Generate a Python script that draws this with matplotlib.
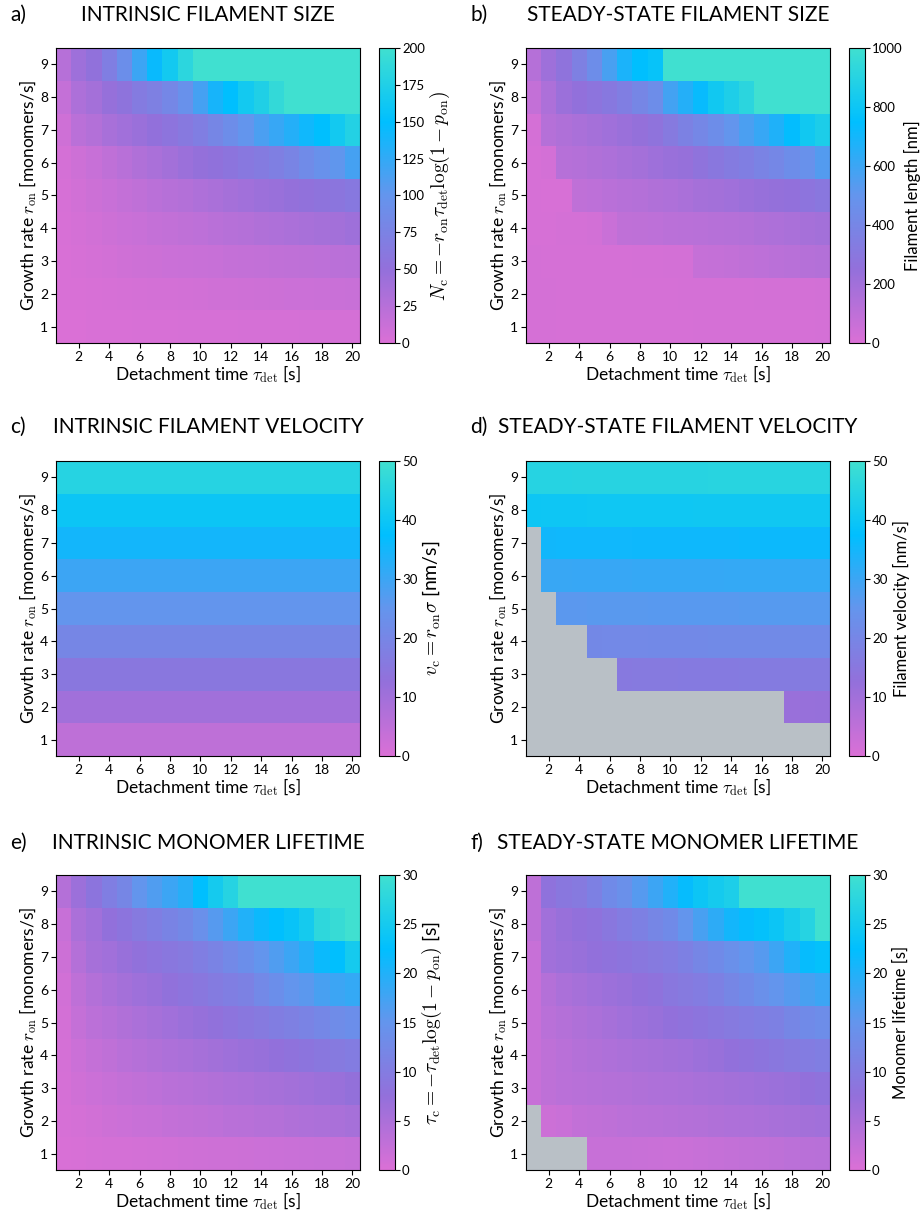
import numpy as np
import matplotlib
matplotlib.use("Agg")
import matplotlib.pyplot as plt
from matplotlib.colors import LinearSegmentedColormap

plt.rcParams['font.family'] = ['Lato', 'DejaVu Sans']
plt.rcParams['mathtext.fontset'] = 'cm'

nan = np.nan
tau_det = np.arange(1, 21)
r_on = np.arange(1, 10)

# rows go r_on = 1 (bottom) ... 9 (top), columns tau_det = 1 ... 20
size_intrinsic = [
    [0.3, 0.6, 0.9, 1.2, 1.5, 1.8, 2.0, 2.2, 2.4, 2.6, 2.8, 3.0, 3.2, 3.4, 3.6, 3.8, 4.0, 4.2, 4.4, 4.6],
    [0.8, 1.5, 2.2, 3.0, 3.6, 4.2, 4.8, 5.4, 6.0, 6.6, 7.2, 7.8, 8.4, 9.0, 9.6, 10.2, 10.8, 11.4, 12.0, 12.6],
    [1.5, 3, 4.5, 6, 7.5, 9, 10, 11, 12, 13, 14, 15, 16, 17, 18, 19, 20, 21, 22, 23],
    [2, 4.5, 7, 9, 11, 13, 15, 17, 19, 21, 23, 25, 27, 29, 31, 33, 35, 37, 39, 42],
    [3, 7, 10, 13, 16, 19, 22, 25, 28, 31, 34, 37, 40, 43, 46, 49, 52, 55, 58, 62],
    [4, 9, 14, 19, 24, 29, 34, 39, 44, 49, 53, 57, 61, 66, 71, 78, 87, 95, 102, 115],
    [8, 22, 28, 35, 40, 45, 50, 56, 63, 70, 80, 90, 100, 112, 122, 132, 142, 150, 165, 178],
    [15, 32, 38, 48, 55, 65, 72, 82, 95, 115, 138, 150, 165, 175, 190, 205, 215, 225, 235, 245],
    [25, 42, 52, 70, 92, 120, 145, 165, 185, 210, 225, 240, 255, 270, 285, 300, 315, 330, 345, 360],
]

size_steady = [
    [18, 16, 15, 15, 15, 14, 14, 14, 15, 15, 15, 16, 16, 16, 17, 17, 18, 18, 19, 20],
    [22, 20, 18, 17, 17, 17, 18, 18, 19, 19, 20, 21, 22, 22, 23, 24, 25, 26, 27, 28],
    [20, 18, 16, 16, 17, 18, 19, 20, 22, 24, 26, 72, 78, 85, 95, 105, 112, 120, 130, 138],
    [15, 15, 20, 20, 28, 60, 95, 100, 105, 110, 115, 120, 125, 132, 140, 150, 160, 170, 180, 195],
    [15, 10, 10, 95, 105, 115, 125, 135, 145, 155, 170, 185, 195, 205, 220, 235, 245, 255, 280, 300],
    [15, 25, 125, 135, 145, 160, 175, 190, 210, 230, 240, 270, 300, 330, 350, 380, 410, 450, 480, 540],
    [20, 130, 150, 170, 185, 205, 225, 245, 270, 320, 370, 410, 450, 500, 560, 610, 670, 740, 820, 860],
    [80, 160, 220, 250, 280, 310, 350, 400, 450, 580, 660, 730, 820, 870, 920, 1050, 1100, 1150, 1200, 1250],
    [130, 210, 270, 360, 450, 570, 680, 750, 780, 1100, 1150, 1200, 1250, 1300, 1350, 1400, 1450, 1500, 1550, 1600],
]

# intrinsic velocity does not depend on tau_det, one value per row
velocity_rows = [5, 10, 15, 20, 25, 30, 35, 40, 45]

velocity_steady = [
    [nan] * 20,
    [nan] * 17 + [11.5, 11.8, 12.0],
    [nan] * 6 + [15.8, 15.9, 16.0, 16.0, 16.1, 16.1, 16.2, 16.2, 16.3, 16.3, 16.4, 16.4, 16.5, 16.5],
    [nan] * 4 + [20.8, 20.9, 21.0, 21.0, 21.1, 21.1, 21.2, 21.2, 21.3, 21.3, 21.3, 21.4, 21.4, 21.4, 21.5, 21.5],
    [nan] * 2 + [26.0, 26.1, 26.2, 26.2, 26.3, 26.3, 26.4, 26.4, 26.4, 26.5, 26.5, 26.5, 26.6, 26.6, 26.6, 26.7, 26.7, 26.7],
    [nan] + [30.3, 30.4, 30.5, 30.5, 30.6, 30.6, 30.7, 30.7, 30.7, 30.8, 30.8, 30.8, 30.9, 30.9, 30.9, 31.0, 31.0, 31.0, 31.0],
    [nan] + [35.3, 35.4, 35.4, 35.5, 35.5, 35.5, 35.6, 35.6, 35.6, 35.7, 35.7, 35.7, 35.7, 35.8, 35.8, 35.8, 35.8, 35.9, 35.9],
    [40.2, 40.3, 40.4, 40.4, 40.5, 40.5, 40.5, 40.6, 40.6, 40.6, 40.6, 40.7, 40.7, 40.7, 40.7, 40.8, 40.8, 40.8, 40.8, 40.8],
    [45.0, 45.1, 45.1, 45.2, 45.2, 45.2, 45.2, 45.3, 45.3, 45.3, 45.3, 45.3, 45.4, 45.4, 45.4, 45.4, 45.4, 45.4, 45.5, 45.5],
]

lifetime_intrinsic = [
    [0.2, 0.35, 0.5, 0.6, 0.7, 0.8, 0.9, 1.0, 1.1, 1.2, 1.3, 1.4, 1.5, 1.6, 1.7, 1.8, 1.9, 2.0, 2.1, 2.2],
    [0.4, 0.7, 1.0, 1.3, 1.6, 1.9, 2.1, 2.4, 2.6, 2.9, 3.1, 3.4, 3.6, 3.9, 4.1, 4.4, 4.6, 4.9, 5.1, 5.4],
    [0.5, 1.1, 1.6, 2.0, 2.4, 2.8, 3.1, 3.4, 3.7, 4.0, 4.3, 4.6, 4.9, 5.2, 5.5, 5.8, 6.1, 6.5, 6.9, 7.4],
    [0.6, 1.6, 2.3, 2.9, 3.4, 3.9, 4.3, 4.7, 5.1, 5.5, 5.9, 6.3, 6.7, 7.1, 7.5, 8.0, 8.5, 9.0, 9.5, 10.0],
    [0.8, 2.3, 3.2, 3.8, 4.4, 5.0, 5.5, 6.0, 6.6, 7.2, 7.8, 8.4, 9.0, 9.6, 10.2, 10.8, 11.4, 12.3, 13.2, 13.8],
    [1.0, 3.0, 4.2, 5.0, 5.7, 6.3, 6.9, 7.8, 8.4, 9.0, 9.9, 10.5, 11.1, 12.6, 13.8, 15.0, 15.6, 17.0, 18.0, 18.6],
    [1.5, 4.0, 5.5, 6.0, 7.0, 7.8, 8.4, 9.0, 9.6, 10.5, 11.4, 12.6, 13.8, 15.0, 16.5, 18.0, 19.8, 21.6, 22.5, 25.0],
    [2.0, 5.0, 6.0, 7.5, 8.5, 9.5, 10.5, 11.5, 12.5, 14.0, 16.0, 18.0, 20.0, 21.5, 22.5, 23.5, 25.0, 28.0, 29.0, 31.0],
    [4.0, 6.5, 8.5, 10.5, 12.0, 15.0, 16.5, 18.0, 19.5, 22.5, 25.0, 27.0, 31.0, 32.0, 33.0, 34.0, 35.0, 36.0, 37.0, 38.0],
]

lifetime_steady = [
    [nan, nan, nan, nan, 2.0, 2.0, 2.0, 1.9, 1.8, 1.7, 1.8, 2.0, 2.2, 2.4, 2.6, 2.8, 3.0, 3.2, 3.4, 3.6],
    [nan, 1.5, 1.8, 2.5, 2.8, 3.0, 3.2, 3.4, 3.6, 3.8, 4.0, 4.2, 4.4, 4.6, 4.8, 5.0, 5.2, 5.5, 5.8, 6.0],
    [2.0, 3.0, 3.3, 3.6, 3.8, 4.0, 4.2, 4.4, 4.6, 4.8, 5.0, 5.2, 5.5, 5.8, 6.0, 6.3, 6.6, 7.0, 7.5, 8.0],
    [2.0, 3.0, 3.5, 4.0, 4.3, 4.6, 5.0, 5.2, 5.5, 5.8, 6.0, 6.5, 7.0, 7.5, 8.0, 8.5, 9.0, 9.5, 10.0, 10.5],
    [2.0, 3.5, 4.0, 4.5, 5.0, 5.5, 6.0, 6.5, 7.0, 7.5, 8.0, 8.5, 9.0, 9.5, 10.0, 10.5, 11.0, 12.0, 13.0, 13.5],
    [2.0, 4.0, 5.0, 5.5, 6.0, 6.5, 7.0, 7.5, 8.0, 9.0, 9.5, 10.0, 11.0, 12.0, 13.0, 14.0, 15.0, 16.0, 17.0, 18.0],
    [2.0, 6.0, 6.5, 7.0, 7.5, 8.0, 8.5, 9.0, 9.5, 10.0, 11.0, 12.0, 13.0, 14.0, 15.0, 16.0, 18.0, 20.0, 22.0, 23.0],
    [3.0, 6.0, 7.0, 7.5, 8.0, 9.0, 10.0, 11.0, 12.0, 13.0, 15.0, 17.0, 19.0, 21.0, 22.0, 23.0, 24.0, 25.5, 27.0, 30.0],
    [3.0, 8.0, 9.0, 9.5, 11.0, 13.0, 14.0, 16.0, 18.0, 20.0, 22.0, 24.0, 25.0, 26.0, 30.0, 31.0, 32.0, 33.0, 34.0, 35.0],
]

cmap = LinearSegmentedColormap.from_list(
    'filament', ['orchid', 'mediumpurple', 'cornflowerblue', 'deepskyblue', 'turquoise'])
cmap.set_bad('#b9c0c6')

panels = [
    ('a)', 'INTRINSIC FILAMENT SIZE', np.array(size_intrinsic), 200, 25,
     r'$N_{\rm c} = -r_{\rm on}\tau_{\rm det}\log(1-p_{\rm on})$'),
    ('b)', 'STEADY-STATE FILAMENT SIZE', np.array(size_steady), 1000, 200,
     'Filament length [nm]'),
    ('c)', 'INTRINSIC FILAMENT VELOCITY', np.repeat(np.array(velocity_rows, float)[:, None], 20, axis=1), 50, 10,
     r'$v_{\rm c} = r_{\rm on}\sigma$ [nm/s]'),
    ('d)', 'STEADY-STATE FILAMENT VELOCITY', np.array(velocity_steady), 50, 10,
     'Filament velocity [nm/s]'),
    ('e)', 'INTRINSIC MONOMER LIFETIME', np.array(lifetime_intrinsic), 30, 5,
     r'$\tau_{\rm c} = -\tau_{\rm det}\log(1-p_{\rm on})$ [s]'),
    ('f)', 'STEADY-STATE MONOMER LIFETIME', np.array(lifetime_steady), 30, 5,
     'Monomer lifetime [s]'),
]

W, H = 921, 1214
fig = plt.figure(figsize=(W / 100, H / 100), dpi=100)

col_left = [56, 526]
row_top = [48, 461, 875]
ax_w, ax_h = 304, 295
title_y = [15, 427, 843]

for k, (tag, title, data, vmax, step, clabel) in enumerate(panels):
    i, j = divmod(k, 2)
    x0, y0 = col_left[j], row_top[i]
    ax = fig.add_axes([x0 / W, 1 - (y0 + ax_h) / H, ax_w / W, ax_h / H])
    im = ax.imshow(np.ma.masked_invalid(data), cmap=cmap, vmin=0, vmax=vmax,
                   origin='lower', aspect='auto', interpolation='nearest',
                   extent=(tau_det[0] - 0.5, tau_det[-1] + 0.5, r_on[0] - 0.5, r_on[-1] + 0.5))
    ax.set_xticks(np.arange(2, 21, 2))
    ax.set_yticks(r_on)
    ax.tick_params(labelsize=10, pad=2)
    ax.set_xlabel(r'Detachment time $\tau_{\rm det}$ [s]', fontsize=12.5, labelpad=0)
    ax.set_ylabel(r'Growth rate $r_{\rm on}$ [monomers/s]', fontsize=12.5, labelpad=1)

    cax = fig.add_axes([(x0 + ax_w + 19) / W, 1 - (y0 + ax_h) / H, 16 / W, ax_h / H])
    cb = fig.colorbar(im, cax=cax, ticks=np.arange(0, vmax + 1, step))
    cb.ax.tick_params(labelsize=9.5, pad=1.5)
    if clabel.startswith('$'):
        cb.set_label(clabel, fontsize=14, labelpad=2)
    elif vmax >= 1000:
        cb.set_label(clabel, fontsize=12, labelpad=1)
    else:
        cb.set_label(clabel, fontsize=12, labelpad=4)

    fig.text((x0 + ax_w / 2) / W, 1 - title_y[i] / H, title, fontsize=15,
             ha='center', va='center')
    fig.text((10 + 460 * j) / W, 1 - title_y[i] / H, tag, fontsize=15,
             ha='left', va='center')

fig.savefig('out.png', dpi=100)
